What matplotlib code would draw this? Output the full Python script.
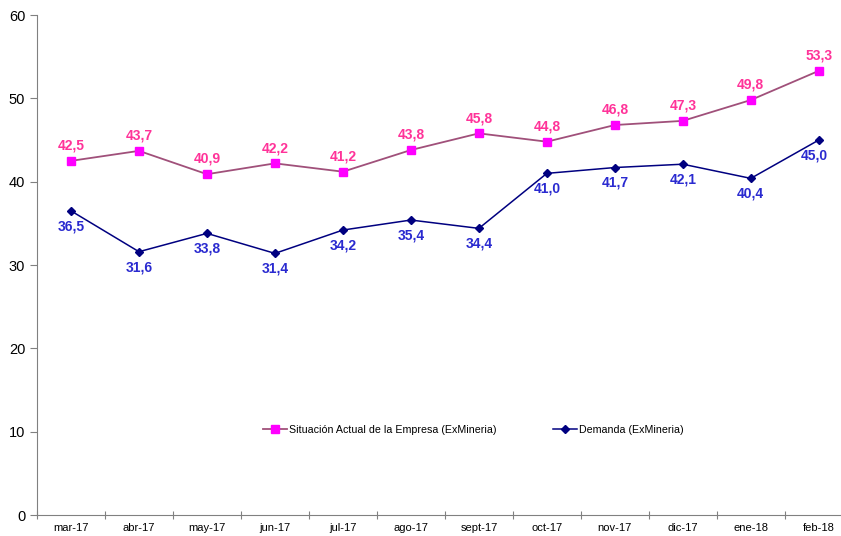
import matplotlib.pyplot as plt
from matplotlib.ticker import FixedLocator, NullFormatter, FixedFormatter

plt.rcParams['font.family'] = ['Liberation Sans', 'DejaVu Sans']

# Data
meses = ['mar-17', 'abr-17', 'may-17', 'jun-17', 'jul-17', 'ago-17',
         'sept-17', 'oct-17', 'nov-17', 'dic-17', 'ene-18', 'feb-18']
situacion = [42.5, 43.7, 40.9, 42.2, 41.2, 43.8, 45.8, 44.8, 46.8, 47.3, 49.8, 53.3]
demanda = [36.5, 31.6, 33.8, 31.4, 34.2, 35.4, 34.4, 41.0, 41.7, 42.1, 40.4, 45.0]

x = list(range(len(meses)))

fig = plt.figure(figsize=(8.41, 5.36), dpi=100)
ax = fig.add_axes([0.044, 0.039, 0.97, 0.933])

ax.plot(x, situacion, color='#A0507A', lw=1.3, marker='s', ms=6,
        mfc='#FF00FF', mec='#FF00FF', label='Situación Actual de la Empresa (ExMineria)')
ax.plot(x, demanda, color='#000080', lw=1.1, marker='D', ms=4,
        mfc='#000080', mec='#000080', label='Demanda (ExMineria)')

# Data labels
for i, v in enumerate(situacion):
    ax.annotate(f'{v:.1f}'.replace('.', ','), (i, v), xytext=(0, 6),
                textcoords='offset points', ha='center', va='bottom',
                color='#FF3399', fontsize=10, fontweight='bold')
for i, v in enumerate(demanda):
    dx = -3 if i == len(demanda) - 1 else 0
    ax.annotate(f'{v:.1f}'.replace('.', ','), (i, v), xytext=(dx, -6),
                textcoords='offset points', ha='center', va='top',
                color='#2a2ad0', fontsize=10, fontweight='bold')

# Axes
ax.set_xlim(-0.5, 11.5)
ax.set_ylim(0, 60)
ax.set_yticks(range(0, 61, 10))
ax.xaxis.set_major_locator(FixedLocator([k - 0.5 for k in range(13)]))
ax.xaxis.set_major_formatter(NullFormatter())
ax.xaxis.set_minor_locator(FixedLocator(x))
ax.xaxis.set_minor_formatter(FixedFormatter(meses))
ax.tick_params(axis='x', which='major', direction='inout', length=6, color='#808080')
ax.tick_params(axis='x', which='minor', length=0, labelsize=8, pad=6)
ax.tick_params(axis='y', direction='out', length=5, color='#808080', labelsize=10.5)

for s in ['top', 'right']:
    ax.spines[s].set_visible(False)
for s in ['left', 'bottom']:
    ax.spines[s].set_color('#808080')

ax.legend(loc='center', bbox_to_anchor=(0.535, 0.17), ncol=2, frameon=False,
          fontsize=7.7, columnspacing=5.3, handlelength=2.2, handletextpad=0.2)

fig.savefig('out.png', dpi=100)
